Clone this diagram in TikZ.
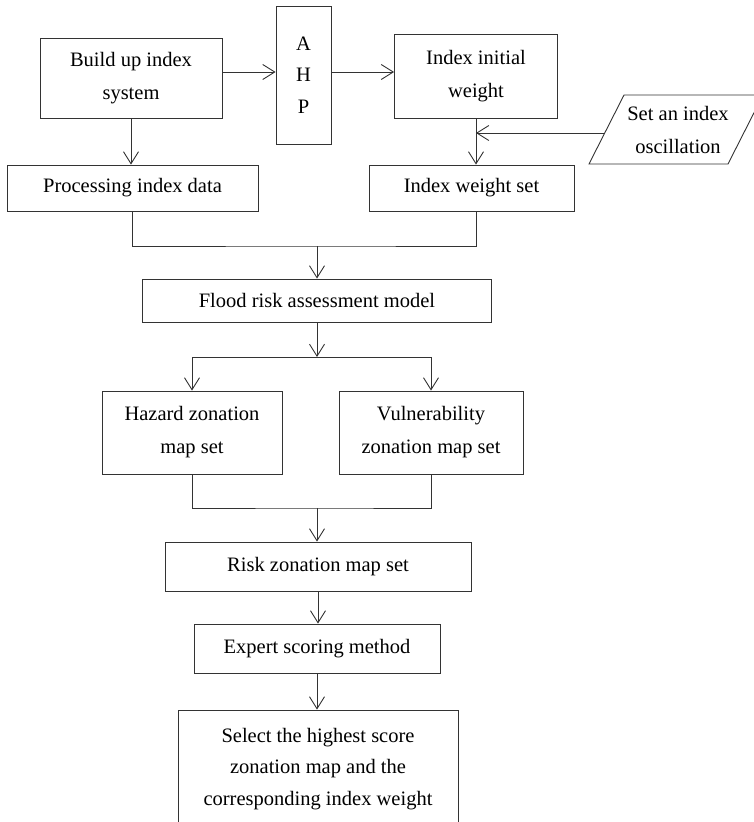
\documentclass[tikz,border=0pt]{standalone}
\usepackage{fontspec}
\setmainfont{Liberation Serif}
\usetikzlibrary{arrows.meta}

\begin{document}
\begin{tikzpicture}[x=1pt, y=-1pt,
  every node/.style={font=\fontsize{20.5}{33}\selectfont, align=center, inner sep=0pt},
  box/.style={draw=black!80, line width=0.9pt},
  line/.style={draw=black!80, line width=0.9pt},
  arr/.style={line, -{Straight Barb[length=12pt, width=15pt]}},
]
\useasboundingbox (0,0) rectangle (753,822);
% Top row
\node[box, minimum width=182pt, minimum height=80pt] (build) at (131,78) {Build up index\\system};
\node[box, minimum width=55pt, minimum height=138pt, font=\fontsize{20.5}{31.5}\selectfont] (ahp) at (303.5,75) {A\\H\\P};
\node[box, minimum width=163pt, minimum height=84pt] (init) at (476,76) {Index initial\\weight};
% Oscillation input
\draw[line] (589,164) -- (624,95) -- (763,95) -- (728,164) -- cycle;
\node (osc) at (678,130) {Set an index\\oscillation};
\coordinate (osc-in) at (605,133);
% Second row
\node[box, minimum width=251pt, minimum height=46pt] (proc) at (132.5,188) {Processing index data};
\node[box, minimum width=205pt, minimum height=46pt] (wset) at (471.5,188) {Index weight set};
% Model and maps
\node[box, minimum width=349pt, minimum height=43pt] (flood) at (317,300.5) {Flood risk assessment model};
\node[box, minimum width=180pt, minimum height=83pt] (hazard) at (192,432.5) {Hazard zonation\\map set};
\node[box, minimum width=184pt, minimum height=83pt] (vuln) at (431,432.5) {Vulnerability\\zonation map set};
\node[box, minimum width=306pt, minimum height=49pt] (risk) at (318,566.5) {Risk zonation map set};
\node[box, minimum width=246pt, minimum height=49pt] (expert) at (317,648.5) {Expert scoring method};
\node[box, minimum width=280pt, minimum height=118pt, font=\fontsize{20.5}{31.5}\selectfont] (final) at (318,769) {Select the highest score\\zonation map and the\\corresponding index weight};
% Arrows, top
\coordinate (row) at (0,72);
\draw[arr] (build.east |- row) -- (ahp.west |- row);
\draw[arr] (ahp.east |- row) -- (init.west |- row);
\draw[arr] (build.south) -- (build.south |- proc.north);
\draw[arr] (init.south) -- (init.south |- wset.north);
\draw[arr] (osc-in) -- (osc-in -| init.south);
% Merge into model
\coordinate (m1) at (317,246);
\draw[line] (proc.south) |- (m1) -| (init.south |- wset.south);
\draw[arr] (m1) -- (m1 |- flood.north);
% Split to maps
\coordinate (s1) at (317,357);
\draw[arr] (flood.south) -- (s1);
\draw[arr] (s1) -| (hazard.north);
\draw[arr] (s1) -| (vuln.north);
% Merge into risk
\coordinate (m2) at (317,508);
\draw[line] (hazard.south) |- (m2) -| (vuln.south);
\draw[arr] (m2) -- (m2 |- risk.north);
\draw[arr] (risk.south) -- (risk.south |- expert.north);
\draw[arr] (expert.south) -- (expert.south |- final.north);
\end{tikzpicture}
\end{document}
